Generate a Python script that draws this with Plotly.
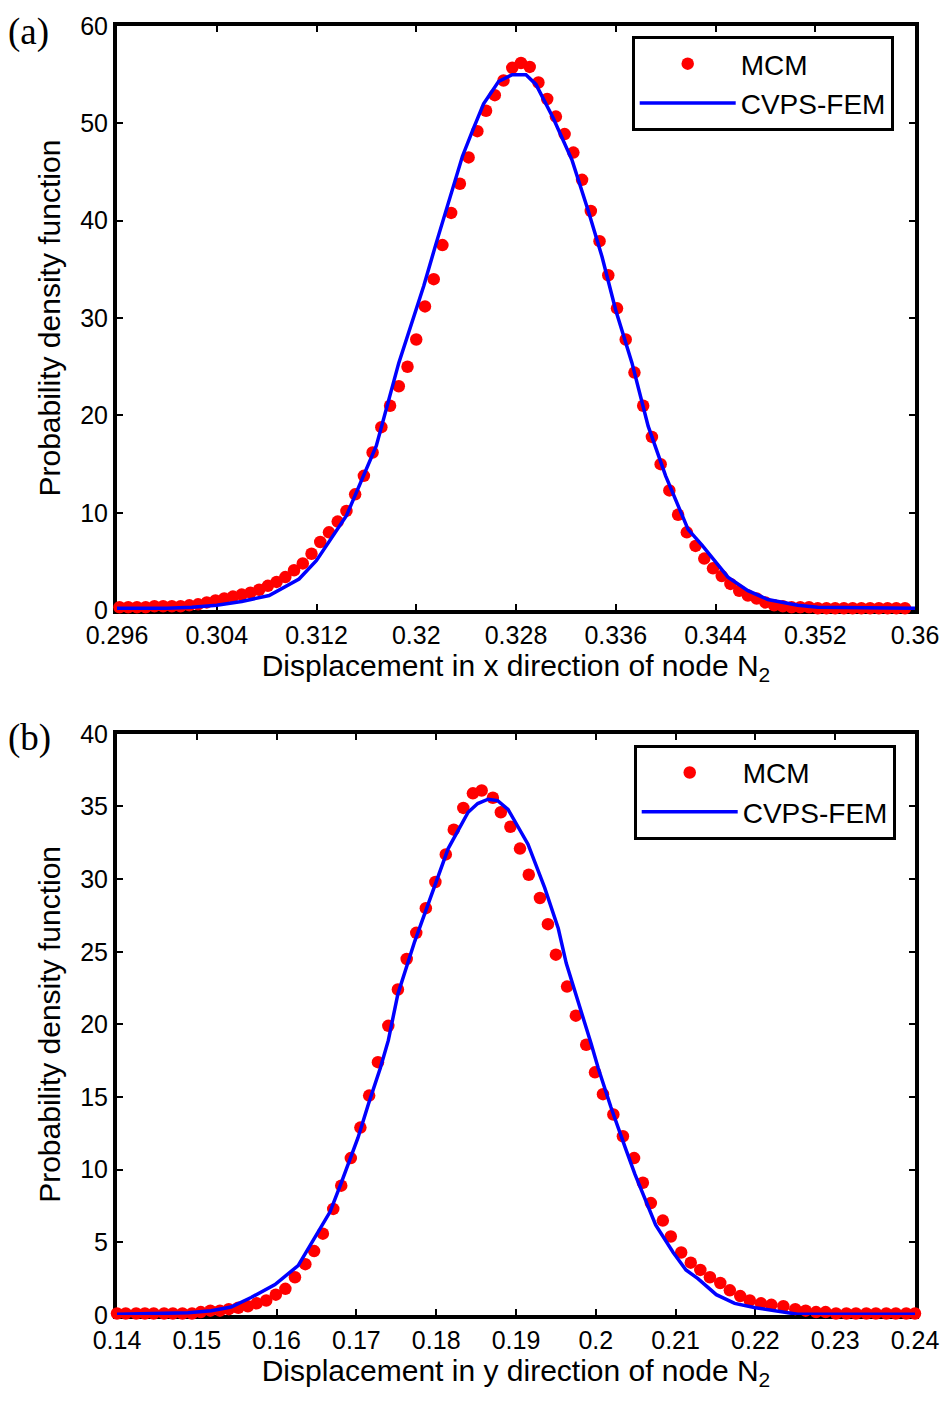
import plotly.graph_objects as go

# ---------------- Panel (a): displacement in x direction ----------------
mcm_a_x = [0.2962, 0.2969, 0.2976, 0.2983, 0.2990, 0.2997, 0.3004, 0.3011, 0.3018, 0.3025,
           0.3032, 0.3039, 0.3046, 0.3053, 0.3060, 0.3067, 0.3074, 0.3081, 0.3088, 0.3095,
           0.3102, 0.3109, 0.3116, 0.3123, 0.3130, 0.3137, 0.3144, 0.3151, 0.3158, 0.3165,
           0.3172, 0.3179, 0.3186, 0.3193, 0.3200, 0.3207, 0.3214, 0.3221, 0.3228, 0.3235,
           0.3242, 0.3249, 0.3256, 0.3263, 0.3270, 0.3277, 0.3284, 0.3291, 0.3298, 0.3305,
           0.3312, 0.3319, 0.3326, 0.3333, 0.3340, 0.3347, 0.3354, 0.3361, 0.3368, 0.3375,
           0.3382, 0.3389, 0.3396, 0.3403, 0.3410, 0.3417, 0.3424, 0.3431, 0.3438, 0.3445,
           0.3452, 0.3459, 0.3466, 0.3473, 0.3480, 0.3487, 0.3494, 0.3501, 0.3508, 0.3515,
           0.3522, 0.3529, 0.3536, 0.3543, 0.3550, 0.3557, 0.3564, 0.3571, 0.3578, 0.3585,
           0.3592]
mcm_a_y = [0.3, 0.3, 0.3, 0.3, 0.4, 0.4, 0.4, 0.4, 0.5, 0.6,
           0.8, 1.0, 1.2, 1.4, 1.6, 1.8, 2.1, 2.5, 2.9, 3.4,
           4.1, 4.8, 5.8, 7.0, 8.0, 9.1, 10.2, 11.9, 13.8, 16.2,
           18.8, 21.0, 23.0, 25.0, 27.8, 31.2, 34.0, 37.5, 40.8, 43.8,
           46.5, 49.2, 51.3, 52.9, 54.4, 55.7, 56.2, 55.8, 54.2, 52.5,
           50.7, 48.9, 47.0, 44.2, 41.0, 37.9, 34.4, 31.0, 27.8, 24.4,
           21.0, 17.8, 15.0, 12.3, 9.8, 8.0, 6.6, 5.3, 4.3, 3.5,
           2.7, 2.0, 1.5, 1.2, 0.8, 0.5, 0.4, 0.3, 0.3, 0.3,
           0.2, 0.2, 0.2, 0.2, 0.2, 0.2, 0.2, 0.2, 0.2, 0.2,
           0.2]

cvps_a_x = [0.2960, 0.3000, 0.3020, 0.3040, 0.3060, 0.3082, 0.3106, 0.3120, 0.3144, 0.3168,
            0.3186, 0.3201, 0.3206, 0.3216, 0.3226, 0.3237, 0.3245, 0.3254, 0.3266, 0.3277,
            0.3288, 0.3296, 0.3310, 0.3325, 0.3338, 0.3349, 0.3360, 0.3373, 0.3386, 0.3400,
            0.3418, 0.3429, 0.3450, 0.3466, 0.3482, 0.3506, 0.3522, 0.3600]
cvps_a_y = [0.2, 0.2, 0.3, 0.5, 0.9, 1.5, 3.2, 5.1, 9.7, 16.9,
            25.4, 31.5, 33.3, 37.7, 41.8, 46.6, 49.2, 52.0, 54.3, 55.0,
            55.0, 54.0, 50.5, 46.2, 41.0, 36.3, 30.8, 25.4, 18.9, 13.8,
            8.3, 6.7, 3.4, 2.0, 1.1, 0.5, 0.3, 0.2]

ticks_a_x = [0.296, 0.304, 0.312, 0.32, 0.328, 0.336, 0.344, 0.352, 0.36]
ticks_a_x_text = ["0.296", "0.304", "0.312", "0.32", "0.328", "0.336", "0.344", "0.352", "0.36"]
ticks_a_y = [0, 10, 20, 30, 40, 50, 60]

# ---------------- Panel (b): displacement in y direction ----------------
mcm_b_x = [0.1400, 0.1411, 0.1424, 0.1435, 0.1446, 0.1459, 0.1470, 0.1482, 0.1494, 0.1505,
           0.1517, 0.1529, 0.1540, 0.1552, 0.1564, 0.1575, 0.1587, 0.1599, 0.1611, 0.1623,
           0.1636, 0.1647, 0.1658, 0.1671, 0.1681, 0.1693, 0.1705, 0.1716, 0.1727, 0.1740,
           0.1752, 0.1763, 0.1775, 0.1787, 0.1799, 0.1812, 0.1822, 0.1834, 0.1846, 0.1857,
           0.1871, 0.1881, 0.1893, 0.1905, 0.1916, 0.1930, 0.1940, 0.1950, 0.1964, 0.1975,
           0.1988, 0.1999, 0.2009, 0.2022, 0.2034, 0.2048, 0.2059, 0.2069, 0.2084, 0.2094,
           0.2107, 0.2119, 0.2131, 0.2143, 0.2156, 0.2168, 0.2181, 0.2193, 0.2207, 0.2220,
           0.2235, 0.2250, 0.2263, 0.2276, 0.2288, 0.2301, 0.2314, 0.2326, 0.2339, 0.2351,
           0.2364, 0.2376, 0.2389, 0.2400]
mcm_b_y = [0.1, 0.1, 0.1, 0.1, 0.1, 0.1, 0.1, 0.1, 0.1, 0.2,
           0.3, 0.3, 0.4, 0.5, 0.6, 0.8, 1.0, 1.4, 1.8, 2.6,
           3.5, 4.4, 5.6, 7.3, 8.9, 10.8, 12.9, 15.1, 17.4, 19.9,
           22.4, 24.5, 26.3, 28.0, 29.8, 31.7, 33.4, 34.9, 35.9, 36.1,
           35.6, 34.6, 33.6, 32.1, 30.3, 28.7, 26.9, 24.8, 22.6, 20.6,
           18.6, 16.7, 15.2, 13.8, 12.3, 10.8, 9.1, 7.7, 6.5, 5.4,
           4.3, 3.6, 3.1, 2.6, 2.2, 1.7, 1.3, 1.0, 0.8, 0.7,
           0.6, 0.4, 0.3, 0.2, 0.2, 0.1, 0.1, 0.1, 0.1, 0.1,
           0.1, 0.1, 0.1, 0.1]

cvps_b_x = [0.1400, 0.1489, 0.1518, 0.1543, 0.1568, 0.1598, 0.1627, 0.1643, 0.1652, 0.1667,
            0.1681, 0.1702, 0.1715, 0.1730, 0.1740, 0.1752, 0.1773, 0.1796, 0.1815, 0.1840,
            0.1852, 0.1865, 0.1877, 0.1890, 0.1915, 0.1936, 0.1953, 0.1963, 0.1978, 0.1994,
            0.2003, 0.2019, 0.2037, 0.2049, 0.2075, 0.2097, 0.2113, 0.2128, 0.2151, 0.2174,
            0.2200, 0.2237, 0.2253, 0.2400]
cvps_b_y = [0.05, 0.15, 0.3, 0.55, 1.2, 2.1, 3.4, 4.9, 5.7, 7.1,
            9.1, 12.2, 14.5, 17.0, 18.9, 22.1, 25.7, 29.2, 32.1, 34.6,
            35.2, 35.5, 35.4, 34.8, 32.4, 29.4, 26.6, 24.2, 21.6, 18.7,
            17.0, 14.3, 11.5, 9.7, 6.2, 4.3, 3.1, 2.5, 1.4, 0.8,
            0.5, 0.2, 0.05, 0.05]

ticks_b_x = [0.14, 0.15, 0.16, 0.17, 0.18, 0.19, 0.2, 0.21, 0.22, 0.23, 0.24]
ticks_b_x_text = ["0.14", "0.15", "0.16", "0.17", "0.18", "0.19", "0.2", "0.21", "0.22", "0.23", "0.24"]
ticks_b_y = [0, 5, 10, 15, 20, 25, 30, 35, 40]

series_names = ["MCM", "CVPS-FEM"]
RED = "#ff0000"
BLUE = "#0000ff"

fig = go.Figure()

fig.add_trace(go.Scatter(x=mcm_a_x, y=mcm_a_y, mode="markers", name=series_names[0],
                         marker=dict(color=RED, size=12.5), cliponaxis=False,
                         xaxis="x", yaxis="y", legend="legend"))
fig.add_trace(go.Scatter(x=cvps_a_x, y=cvps_a_y, mode="lines", name=series_names[1],
                         line=dict(color=BLUE, width=3.5), cliponaxis=False,
                         xaxis="x", yaxis="y", legend="legend"))
fig.add_trace(go.Scatter(x=mcm_b_x, y=mcm_b_y, mode="markers", name=series_names[0],
                         marker=dict(color=RED, size=12.5), cliponaxis=False,
                         xaxis="x2", yaxis="y2", legend="legend2"))
fig.add_trace(go.Scatter(x=cvps_b_x, y=cvps_b_y, mode="lines", name=series_names[1],
                         line=dict(color=BLUE, width=3.5), cliponaxis=False,
                         xaxis="x2", yaxis="y2", legend="legend2"))

FONT = "Liberation Sans, Arial, sans-serif"
axis_common = dict(showline=True, linecolor="black", linewidth=4, mirror="ticks",
                   ticks="inside", ticklen=6, tickwidth=2, tickcolor="black",
                   showgrid=False, zeroline=False, layer="below traces",
                   tickfont=dict(family=FONT, size=25, color="black"))

TOP_A = 1.0
BOT_A = 1 - 586 / 1293
TOP_B = 1 - 710 / 1293

fig.update_layout(
    width=951, height=1405,
    margin=dict(l=117, r=34, t=22, b=90),
    paper_bgcolor="white", plot_bgcolor="white",
    font=dict(family=FONT, color="black"),
    showlegend=True,
    xaxis=dict(axis_common, domain=[0, 1], anchor="y", range=[0.296, 0.36],
               tickvals=ticks_a_x, ticktext=ticks_a_x_text,
               title=dict(text="Displacement in x direction of node N<sub>2</sub>",
                          font=dict(family=FONT, size=30), standoff=4)),
    yaxis=dict(axis_common, domain=[BOT_A, TOP_A], anchor="x", range=[0, 60],
               tickvals=ticks_a_y,
               title=dict(text="Probability density function",
                          font=dict(family=FONT, size=30), standoff=12)),
    xaxis2=dict(axis_common, domain=[0, 1], anchor="y2", range=[0.14, 0.24],
                tickvals=ticks_b_x, ticktext=ticks_b_x_text,
                title=dict(text="Displacement in y direction of node N<sub>2</sub>",
                           font=dict(family=FONT, size=30), standoff=4)),
    yaxis2=dict(axis_common, domain=[0, TOP_B], anchor="x2", range=[0, 40],
                tickvals=ticks_b_y,
                title=dict(text="Probability density function",
                           font=dict(family=FONT, size=30), standoff=12)),
    legend=dict(x=(633 - 117) / 800, y=1 - (32 - 22) / 1293, xanchor="left", yanchor="top",
                bgcolor="white", bordercolor="black", borderwidth=3,
                font=dict(family=FONT, size=28), itemwidth=96, tracegroupgap=0),
    legend2=dict(x=(635 - 117) / 800, y=1 - (743 - 22) / 1293, xanchor="left", yanchor="top",
                 bgcolor="white", bordercolor="black", borderwidth=3,
                 font=dict(family=FONT, size=28), itemwidth=96, tracegroupgap=0),
    annotations=[
        dict(text="(a)", xref="paper", yref="paper", x=(6 - 117) / 800, y=1 - (28 - 22) / 1293,
             xanchor="left", yanchor="middle", showarrow=False,
             font=dict(family="Liberation Serif, Times New Roman, serif", size=37, color="black")),
        dict(text="(b)", xref="paper", yref="paper", x=(6 - 117) / 800, y=1 - (736 - 22) / 1293,
             xanchor="left", yanchor="middle", showarrow=False,
             font=dict(family="Liberation Serif, Times New Roman, serif", size=37, color="black")),
    ],
)

fig.write_html("out.html")
